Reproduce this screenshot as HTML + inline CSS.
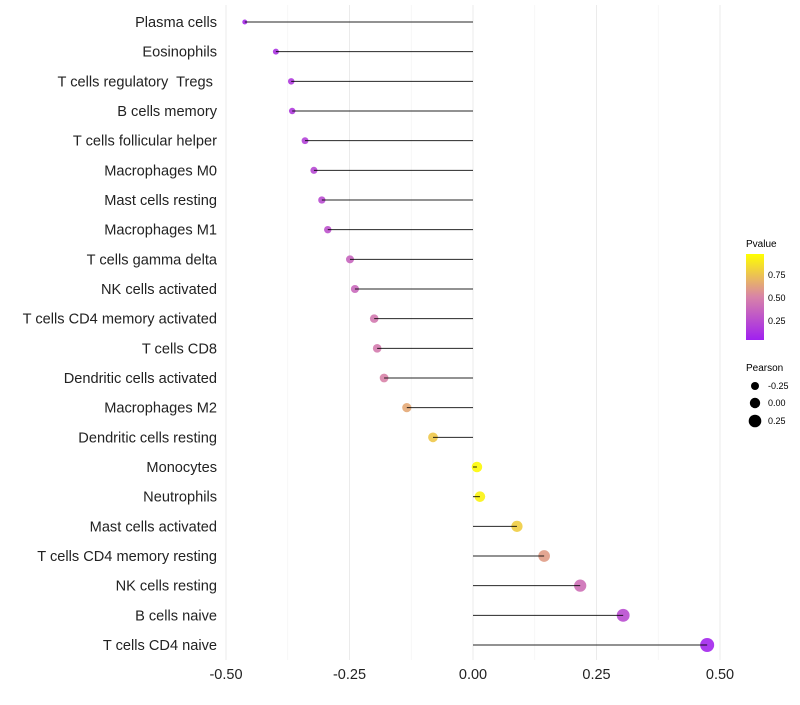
<!DOCTYPE html>
<html><head><meta charset="utf-8"><style>
body{margin:0;background:#fff;font-family:"Liberation Sans",sans-serif}
</style></head><body>
<svg id="chart" width="800" height="700" xmlns="http://www.w3.org/2000/svg" font-family="Liberation Sans, sans-serif">
<defs><linearGradient id="pg" x1="0" y1="1" x2="0" y2="0">
<stop offset="0" stop-color="#A020F0"/><stop offset="0.5" stop-color="#D883A8"/><stop offset="1" stop-color="#FFFF00"/></linearGradient></defs>
<g id="grid"></g><g id="marks"></g><g id="stems"></g><g id="labels"></g>
<g font-size="9">
<text x="746" y="247" font-size="10">Pvalue</text>
<rect x="746" y="254" width="18" height="86" fill="url(#pg)"/>
<text x="768" y="278">0.75</text>
<text x="768" y="301">0.50</text>
<text x="768" y="324">0.25</text>
<text x="746" y="371" font-size="10">Pearson</text>
<circle cx="755" cy="386" r="4"/>
<text x="768" y="389">-0.25</text>
<circle cx="755" cy="403" r="5.2"/>
<text x="768" y="406">0.00</text>
<circle cx="755" cy="421" r="6.3"/>
<text x="768" y="424">0.25</text>
</g>
</svg>
<script>
const cells=["Plasma cells","Eosinophils","T cells regulatory  Tregs ","B cells memory","T cells follicular helper","Macrophages M0","Mast cells resting","Macrophages M1","T cells gamma delta","NK cells activated","T cells CD4 memory activated","T cells CD8","Dendritic cells activated","Macrophages M2","Dendritic cells resting","Monocytes","Neutrophils","Mast cells activated","T cells CD4 memory resting","NK cells resting","B cells naive","T cells CD4 naive"];
const pearson=[-0.462,-0.399,-0.368,-0.366,-0.34,-0.322,-0.306,-0.294,-0.249,-0.239,-0.2,-0.194,-0.18,-0.134,-0.081,0.008,0.014,0.089,0.144,0.217,0.304,0.474];
const pvalue=[0.05,0.1,0.13,0.13,0.17,0.2,0.22,0.25,0.35,0.37,0.45,0.46,0.5,0.65,0.78,0.98,0.95,0.8,0.6,0.4,0.22,0.03];
const xTicks=[-0.5,-0.25,0,0.25,0.5];
const xTickLabels=["-0.50","-0.25","0.00","0.25","0.50"];
const NS="http://www.w3.org/2000/svg";
const X=v=>473+v*494;
const Y=i=>22+i*(623/(cells.length-1));
function R(v){return Math.sqrt(Math.max(1,27.4+46*v));}
function col(p){const s=[[160,32,240],[216,131,168],[255,255,0]];let a,b,t;if(p<0.5){a=s[0];b=s[1];t=p/0.5}else{a=s[1];b=s[2];t=(p-0.5)/0.5}
return "rgb("+a.map((c,k)=>Math.round(c+(b[k]-c)*t)).join(",")+")";}
function mk(tag,at,parent){const e=document.createElementNS(NS,tag);for(const k in at)e.setAttribute(k,at[k]);parent.appendChild(e);return e;}
const grid=document.getElementById("grid"),marks=document.getElementById("marks"),stems=document.getElementById("stems"),labels=document.getElementById("labels");
let gi=0;
for(let v=-0.5;v<=0.5001;v+=0.125){const major=(gi%2===0);gi++;
const l=mk("line",{x1:X(v),x2:X(v),y1:5,y2:660,stroke:major?"#ebebeb":"#f4f4f4","stroke-width":major?1:0.8},grid);

}
xTicks.forEach((v,i)=>{const t=mk("text",{x:X(v),y:679,"text-anchor":"middle","font-size":14.5,fill:"#222"},labels);t.textContent=xTickLabels[i];

});
cells.forEach((c,i)=>{const y=Y(i);
const ci=mk("circle",{cx:X(pearson[i]),cy:y,r:R(pearson[i]),fill:col(pvalue[i]),"fill-opacity":0.9},marks);


const ln=mk("line",{x1:X(0),x2:X(pearson[i]),y1:y,y2:y,stroke:"#000","stroke-width":1,"stroke-opacity":0.85},stems);


const t=mk("text",{x:217,y:y+5,"text-anchor":"end","font-size":14.6,fill:"#222"},labels);
t.style.whiteSpace="pre";t.textContent=c;

});
</script>
</body></html>
